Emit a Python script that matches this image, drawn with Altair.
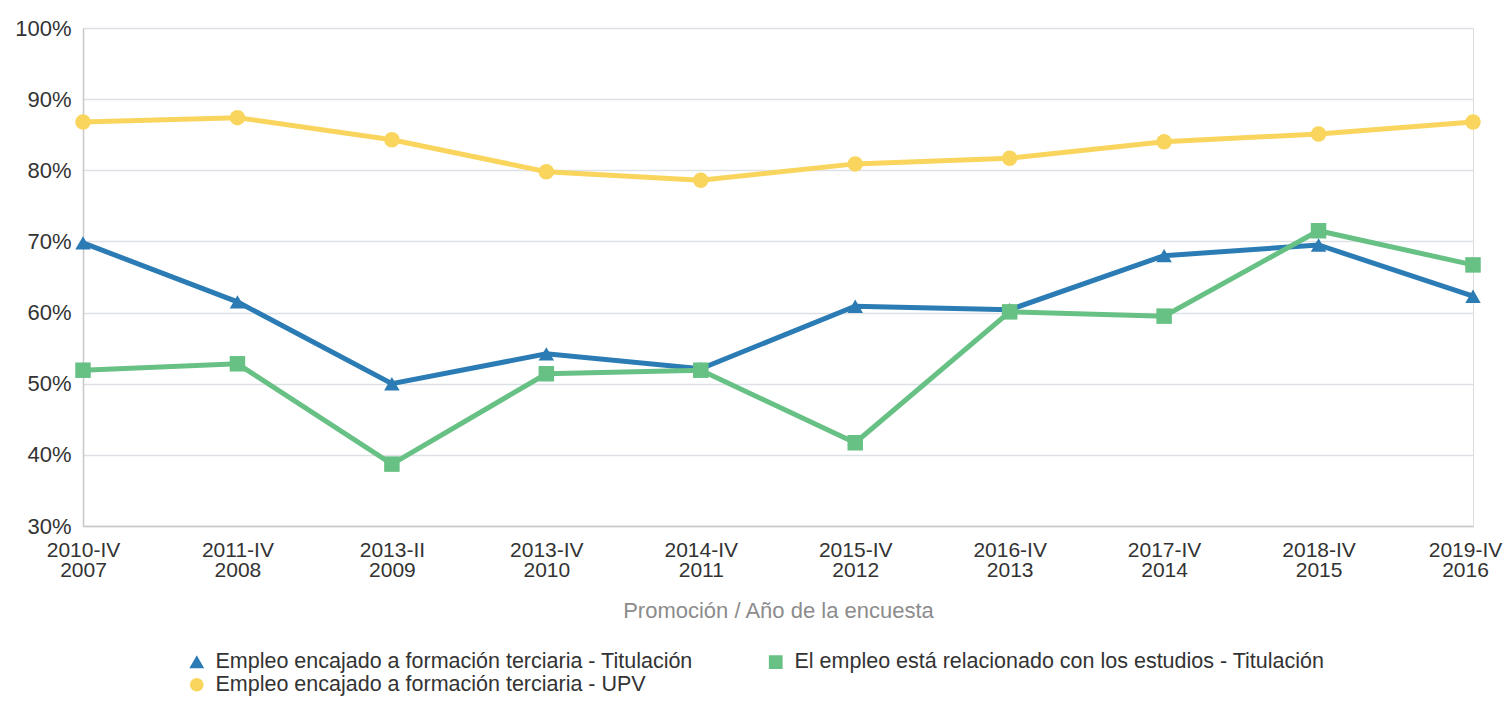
import altair as alt
import pandas as pd

promociones = ["2010-IV", "2011-IV", "2013-II", "2013-IV", "2014-IV",
               "2015-IV", "2016-IV", "2017-IV", "2018-IV", "2019-IV"]
anios = ["2007", "2008", "2009", "2010", "2011",
         "2012", "2013", "2014", "2015", "2016"]

serie_titulacion = "Empleo encajado a formación terciaria - Titulación"
serie_estudios = "El empleo está relacionado con los estudios - Titulación"
serie_upv = "Empleo encajado a formación terciaria - UPV"

encajado_titulacion = [69.8, 61.5, 50.0, 54.2, 52.1, 60.9, 60.4, 68.0, 69.5, 62.3]
relacionado_titulacion = [51.9, 52.8, 38.7, 51.4, 51.9, 41.7, 60.1, 59.5, 71.5, 66.7]
encajado_upv = [86.8, 87.4, 84.3, 79.8, 78.6, 80.9, 81.7, 84.0, 85.1, 86.8]

# legend grid is filled column by column: titulación, UPV | estudios
series_names = [serie_titulacion, serie_upv, serie_estudios]
colors = ["#2b7bb4", "#f9d55e", "#68c184"]
shapes = ["triangle-up", "circle", "square"]

cats = [f"{p}|{a}" for p, a in zip(promociones, anios)]
rows = []
for name, vals in [(serie_upv, encajado_upv),
                   (serie_titulacion, encajado_titulacion),
                   (serie_estudios, relacionado_titulacion)]:
    for c, v in zip(cats, vals):
        rows.append({"cat": c, "serie": name, "valor": v})
df = pd.DataFrame(rows)

FONT = "Liberation Sans"

x = alt.X("cat:N", sort=cats, title="Promoción / Año de la encuesta",
          scale=alt.Scale(type="point", padding=0),
          axis=alt.Axis(labelExpr="split(datum.label, '|')", labelAngle=0,
                        labelFontSize=21, labelColor="#333333", labelLineHeight=20,
                        labelPadding=13, ticks=False, domainColor="#c8c8c8",
                        labelOffset={"condition": {"test": f"datum.value == '{cats[-1]}'",
                                                   "value": -8}, "value": 0},
                        domainWidth=1.5, titleFontSize=22, titleColor="#8c8c8c",
                        titleFontWeight="normal", titlePadding=20,
                        labelFont=FONT, titleFont=FONT, grid=False))
y = alt.Y("valor:Q", scale=alt.Scale(domain=[30, 100], nice=False, zero=False),
          axis=alt.Axis(values=[30, 40, 50, 60, 70, 80, 90, 100],
                        labelExpr="datum.value + '%'", title=None,
                        labelFontSize=22, labelColor="#333333", labelFont=FONT,
                        labelPadding=12, ticks=False, domainColor="#c8c8c8",
                        domainWidth=1.5, gridColor="#dde1e6", gridWidth=1.5))

color_scale = alt.Scale(domain=series_names, range=colors)
shape_scale = alt.Scale(domain=series_names, range=shapes)

legend = alt.Legend(title=None, orient="none", legendX=103, legendY=623,
                    columns=2, columnPadding=72, rowPadding=0,
                    labelFontSize=21.5, labelColor="#333333",
                    labelFont=FONT, symbolSize=150, labelOffset=8,
                    labelLimit=800)

lines = alt.Chart(df).mark_line(strokeWidth=5).encode(
    x=x, y=y,
    color=alt.Color("serie:N", scale=color_scale, sort=series_names, legend=legend),
    shape=alt.Shape("serie:N", scale=shape_scale, sort=series_names, legend=legend),
    detail="serie:N",
)
points = alt.Chart(df).mark_point(filled=True, size=240, opacity=1).encode(
    x=x, y=y,
    color=alt.Color("serie:N", scale=color_scale, sort=series_names, legend=legend),
    shape=alt.Shape("serie:N", scale=shape_scale, sort=series_names, legend=legend),
)

chart = alt.layer(lines, points).properties(
    width=1390, height=498,
    padding={"left": 75, "top": 20, "right": 30, "bottom": 170},
    autosize=alt.AutoSizeParams(type="none"),
).configure_view(stroke=None).configure(font=FONT)

chart.save("out.html", embed_options={"renderer": "svg", "actions": False})
